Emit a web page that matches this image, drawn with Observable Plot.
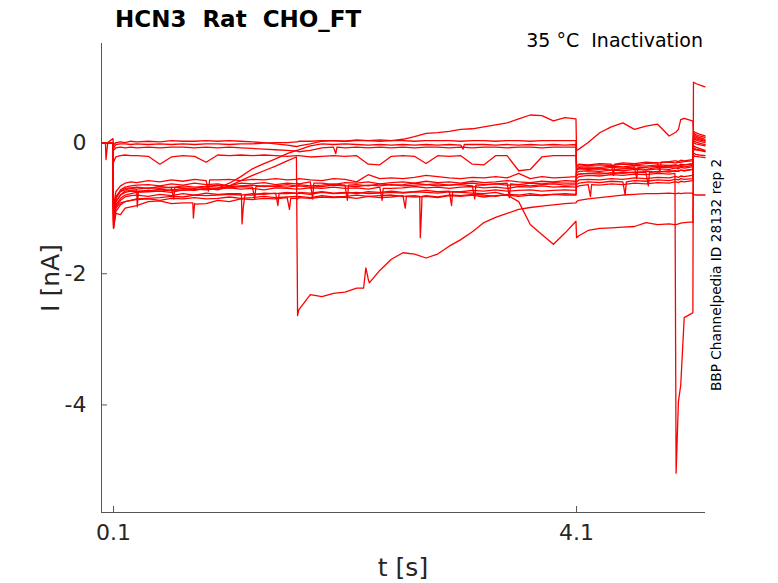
<!DOCTYPE html>
<html><head><meta charset="utf-8">
<script src="https://cdn.jsdelivr.net/npm/d3@7"></script>
<script src="https://cdn.jsdelivr.net/npm/@observablehq/plot@0.6"></script>
<style>body{margin:0;background:#fff;} svg{font-family:"DejaVu Sans",sans-serif;}</style>
</head><body><div id="chart"></div>
<script>
const title = "HCN3  Rat  CHO_FT";
const subtitle = "35 °C  Inactivation";
const sideNote = "BBP Channelpedia ID 28132 rep 2";
const xLabel = "t [s]";
const yLabel = "I [nA]";
const xTicks = [0.1, 4.1];
const yTicks = [0, -2, -4];
const xDomain = [-0.004, 5.214];
const yDomain = [-5.64, 1.51];

// sample times (s)
const tGrid = [0, 0.03, 0.035, 0.05, 0.095, 0.1, 0.12, 0.16, 0.2, 0.25,
  0.3, 0.4, 0.5, 0.6, 0.7, 0.8, 0.9, 1.0, 1.1, 1.2,
  1.3, 1.4, 1.5, 1.6, 1.68, 1.69, 1.7, 1.8, 1.9, 2.0,
  2.1, 2.2, 2.3, 2.4, 2.5, 2.6, 2.7, 2.8, 2.9, 3.0,
  3.1, 3.2, 3.3, 3.4, 3.5, 3.6, 3.7, 3.8, 3.9, 4.0,
  4.095, 4.1, 4.12, 4.2, 4.3, 4.4, 4.5, 4.6, 4.7, 4.8,
  4.9, 4.95, 4.96, 4.98, 5.0, 5.03, 5.1, 5.105, 5.11, 5.13,
  5.16, 5.21];

// current traces (nA), one value per sample time
const sweepU1 = [0, 0, 0, 0, 0.06, -0.04, 0.0, 0.01, 0.0, 0.02,
  0.01, 0.02, 0.01, 0.03, 0.02, 0.02, 0.03, 0.02, 0.03, 0.02,
  0.01, 0.0, -0.02, -0.04, -0.06, -0.06, -0.05, -0.02, 0.02, 0.03,
  0.02, 0.04, 0.03, 0.04, 0.03, 0.05, 0.09, 0.14, 0.15, 0.17,
  0.2, 0.21, 0.24, 0.27, 0.3, 0.36, 0.42, 0.41, 0.33, 0.38,
  0.36, -0.12, -0.1, 0.0, 0.15, 0.24, 0.3, 0.2, 0.25, 0.28,
  0.1, 0.15, 0.16, 0.2, 0.35, 0.37, 0.33, 0.32, 0.12, 0.1,
  0.08, 0.05];
const sweepU2 = [0, 0, 0, 0, 0, -0.08, -0.03, -0.02, -0.02, -0.03,
  -0.02, -0.03, -0.02, -0.03, -0.02, -0.03, -0.02, -0.02, -0.03, -0.02,
  -0.02, -0.01, 0.0, 0.0, 0.01, 0.01, 0.02, 0.02, 0.03, 0.03,
  0.02, 0.03, 0.03, 0.02, 0.03, 0.03, 0.02, 0.03, 0.03, 0.03,
  0.02, 0.03, 0.03, 0.02, 0.03, 0.03, 0.02, 0.03, 0.03, 0.03,
  0.03, -0.36, -0.36, -0.35, -0.34, -0.35, -0.33, -0.34, -0.32, -0.31,
  -0.3, -0.31, -0.31, -0.3, -0.3, -0.29, -0.28, -0.28, 0.17, 0.15,
  0.13, 0.1];
const sweepU3 = [0, 0, -0.26, 0, 0, -0.12, -0.08, -0.07, -0.08, -0.07,
  -0.08, -0.07, -0.08, -0.07, -0.07, -0.08, -0.07, -0.08, -0.07, -0.08,
  -0.09, -0.1, -0.11, -0.12, -0.13, -0.13, -0.14, -0.12, -0.08, -0.07,
  -0.08, -0.07, -0.08, -0.07, -0.08, -0.07, -0.08, -0.07, -0.07, -0.08,
  -0.07, -0.08, -0.07, -0.07, -0.08, -0.07, -0.07, -0.08, -0.07, -0.07,
  -0.07, -0.42, -0.4, -0.41, -0.4, -0.42, -0.4, -0.39, -0.41, -0.38,
  -0.38, -0.37, -0.37, -0.38, -0.36, -0.37, -0.35, -0.35, 0.1, 0.08,
  0.06, 0.03];
const sweepU4 = [0, 0, 0, 0, 0, -0.3, -0.22, -0.2, -0.19, -0.2,
  -0.2, -0.21, -0.33, -0.22, -0.2, -0.21, -0.3, -0.19, -0.2, -0.19,
  -0.2, -0.19, -0.2, -0.21, -0.2, -0.2, -0.2, -0.22, -0.21, -0.2,
  -0.21, -0.2, -0.33, -0.34, -0.21, -0.2, -0.21, -0.32, -0.2, -0.21,
  -0.2, -0.33, -0.34, -0.2, -0.2, -0.43, -0.41, -0.22, -0.2, -0.2,
  -0.2, -0.5, -0.48, -0.47, -0.46, -0.48, -0.45, -0.46, -0.44, -0.45,
  -0.43, -0.44, -0.44, -0.43, -0.42, -0.43, -0.41, -0.41, 0.0, -0.02,
  -0.03, -0.05];
const sweepR = [0, 0, 0, 0, 0, -1.2, -0.9, -0.8, -0.76, -0.74,
  -0.75, -0.73, -0.74, -0.72, -0.73, -0.71, -0.72, -0.7, -0.62, -0.52,
  -0.4, -0.32, -0.25, -0.17, -0.12, -0.12, -0.11, -0.05, -0.02, -0.03,
  -0.02, -0.03, -0.04, -0.03, -0.04, -0.03, -0.04, -0.03, -0.04, -0.03,
  -0.04, -0.03, -0.03, -0.04, -0.03, -0.04, -0.03, -0.04, -0.03, -0.04,
  -0.03, -0.4, -0.38, -0.37, -0.38, -0.36, -0.37, -0.35, -0.36, -0.34,
  -0.35, -0.34, -0.34, -0.35, -0.33, -0.34, -0.32, -0.32, 0.08, 0.06,
  0.04, 0.02];
const sweepD = [0, 0, 0, 0, 0, -1.3, -0.95, -0.85, -0.8, -0.78,
  -0.76, -0.75, -0.74, -0.76, -0.72, -0.73, -0.7, -0.72, -0.66, -0.58,
  -0.5, -0.43, -0.36, -0.28, -0.22, -2.64, -2.55, -2.32, -2.35, -2.3,
  -2.28, -2.22, -2.08, -1.95, -1.78, -1.68, -1.7, -1.76, -1.7, -1.58,
  -1.48, -1.36, -1.22, -1.14, -1.08, -1.02, -0.99, -0.97, -0.95, -0.93,
  -0.92, -0.9, -0.88, -0.86, -0.84, -0.82, -0.8, -0.79, -0.78, -0.78,
  -0.77, -0.78, -0.78, -0.77, -0.78, -0.77, -0.77, -0.78, -0.79, -0.8,
  -0.8, -0.8];
const sweepL = [0, 0, 0, 0, 0, -1.25, -1.0, -0.92, -0.9, -0.88,
  -0.86, -0.85, -0.84, -0.82, -0.83, -0.8, -0.81, -0.8, -0.79, -0.8,
  -0.78, -0.79, -0.77, -0.78, -0.77, -0.78, -0.77, -0.79, -0.76, -0.78,
  -0.77, -0.76, -0.78, -0.77, -0.76, -0.77, -0.75, -0.76, -0.77, -0.75,
  -0.76, -0.77, -0.78, -0.76, -0.8, -0.9, -1.25, -1.4, -1.55, -1.38,
  -1.2, -1.45, -1.42, -1.34, -1.31, -1.3, -1.29, -1.28, -1.22, -1.25,
  -1.24, -1.25, -1.25, -1.24, -1.23, -1.22, -1.21, -1.22, -0.05, -0.07,
  -0.09, -0.12];
const sweepV = [0, 0, 0, 0, 0, -1.1, -0.85, -0.75, -0.72, -0.7,
  -0.71, -0.69, -0.7, -0.68, -0.69, -0.7, -0.67, -0.68, -0.69, -0.67,
  -0.68, -0.66, -0.67, -0.68, -0.66, -0.67, -0.66, -0.68, -0.67, -0.65,
  -0.66, -0.67, -0.65, -0.66, -0.64, -0.66, -0.65, -0.64, -0.66, -0.65,
  -0.64, -0.66, -0.65, -0.63, -0.65, -0.64, -0.66, -0.64, -0.63, -0.65,
  -0.64, -0.55, -0.52, -0.5, -0.51, -0.49, -0.5, -0.48, -0.49, -0.47,
  -0.48, -0.47, -5.04, -3.95, -3.7, -2.67, -2.6, -2.59, 0.92, 0.9,
  0.88, 0.85];
const sweepB1 = [0, 0, 0, 0, 0, -1.0, -0.75, -0.66, -0.62, -0.6,
  -0.61, -0.58, -0.6, -0.57, -0.59, -0.56, -0.58, -0.57, -0.56, -0.58,
  -0.56, -0.57, -0.55, -0.57, -0.56, -0.56, -0.55, -0.57, -0.58, -0.55,
  -0.56, -0.6, -0.49, -0.55, -0.54, -0.55, -0.53, -0.5, -0.52, -0.54,
  -0.55, -0.53, -0.54, -0.52, -0.54, -0.47, -0.55, -0.52, -0.54, -0.53,
  -0.52, -0.36, -0.33, -0.34, -0.32, -0.33, -0.31, -0.32, -0.3, -0.31,
  -0.29, -0.28, -0.28, -0.29, -0.27, -0.28, -0.26, -0.26, 0.14, 0.12,
  0.1, 0.08];
const sweepB2 = [0, 0, 0, 0, 0, -1.15, -0.85, -0.72, -0.68, -0.66,
  -0.65, -0.64, -0.66, -0.63, -0.65, -0.62, -0.64, -0.63, -0.66, -0.62,
  -0.63, -0.61, -0.64, -0.62, -0.63, -0.62, -0.63, -0.6, -0.62, -0.64,
  -0.61, -0.62, -0.6, -0.63, -0.61, -0.6, -0.62, -0.59, -0.61, -0.6,
  -0.62, -0.59, -0.61, -0.6, -0.58, -0.6, -0.61, -0.59, -0.6, -0.58,
  -0.59, -0.42, -0.4, -0.39, -0.4, -0.38, -0.39, -0.37, -0.38, -0.36,
  -0.37, -0.35, -0.35, -0.36, -0.35, -0.34, -0.33, -0.33, 0.06, 0.04,
  0.02, 0.0];
const sweepB3 = [0, 0, 0, 0, 0, -1.2, -0.9, -0.8, -0.74, -0.73,
  -0.72, -0.74, -0.71, -0.73, -0.7, -0.72, -0.7, -0.71, -0.69, -0.71,
  -0.7, -0.72, -0.69, -0.7, -0.71, -0.7, -0.71, -0.69, -0.7, -0.68,
  -0.7, -0.69, -0.71, -0.68, -0.7, -0.69, -0.67, -0.69, -0.68, -0.7,
  -0.68, -0.67, -0.69, -0.68, -0.7, -0.67, -0.68, -0.66, -0.68, -0.67,
  -0.68, -0.5, -0.48, -0.47, -0.48, -0.46, -0.47, -0.45, -0.46, -0.44,
  -0.45, -0.43, -0.43, -0.44, -0.42, -0.43, -0.41, -0.41, -0.1, -0.11,
  -0.12, -0.14];
const sweepB4 = [0, 0, 0, 0, 0, -1.25, -0.98, -0.88, -0.83, -0.81,
  -0.8, -0.82, -0.79, -0.81, -0.78, -0.8, -0.77, -0.79, -0.78, -0.78,
  -0.8, -0.77, -0.78, -0.76, -0.77, -0.78, -0.76, -0.77, -0.75, -0.77,
  -0.76, -0.78, -0.75, -0.76, -0.74, -0.76, -0.75, -0.73, -0.75, -0.74,
  -0.75, -0.73, -0.74, -0.72, -0.74, -0.73, -0.72, -0.74, -0.73, -0.72,
  -0.73, -0.6, -0.57, -0.56, -0.57, -0.55, -0.56, -0.54, -0.55, -0.53,
  -0.54, -0.52, -0.52, -0.53, -0.51, -0.52, -0.5, -0.5, -0.16, -0.18,
  -0.19, -0.2];
const sweepB5 = [0, 0, 0, 0, 0, -1.3, -1.05, -0.95, -0.9, -0.88,
  -0.87, -0.86, -0.88, -0.85, -0.86, -0.84, -0.86, -0.85, -0.83, -0.85,
  -0.84, -0.82, -0.84, -0.83, -0.82, -0.83, -0.82, -0.84, -0.81, -0.83,
  -0.82, -0.8, -0.82, -0.81, -0.8, -0.82, -0.81, -0.81, -0.83, -0.8,
  -0.81, -0.79, -0.8, -0.82, -0.79, -0.8, -0.78, -0.8, -0.79, -0.78,
  -0.79, -0.64, -0.62, -0.6, -0.61, -0.59, -0.6, -0.58, -0.59, -0.57,
  -0.58, -0.56, -0.56, -0.57, -0.55, -0.56, -0.55, -0.55, -0.2, -0.21,
  -0.22, -0.23];
const sweepB6 = [0, 0, 0, 0, 0, -1.31, -1.08, -1.1, -1.0, -0.98,
  -0.96, -0.9, -0.89, -0.93, -0.92, -0.93, -0.93, -0.88, -0.9, -0.86,
  -0.87, -0.85, -0.86, -0.84, -0.85, -0.86, -0.84, -0.85, -0.83, -0.84,
  -0.83, -0.85, -0.82, -0.84, -0.83, -0.81, -0.83, -0.82, -0.84, -0.81,
  -0.82, -0.8, -0.83, -0.81, -0.8, -0.82, -0.8, -0.81, -0.79, -0.8,
  -0.8, -0.68, -0.66, -0.64, -0.65, -0.63, -0.64, -0.62, -0.63, -0.61,
  -0.62, -0.6, -0.6, -0.61, -0.59, -0.6, -0.58, -0.58, -0.08, -0.1,
  -0.11, -0.13];
const sweepB7 = [0, 0, 0, 0, 0, -1.1, -0.82, -0.74, -0.7, -0.69,
  -0.68, -0.7, -0.67, -0.69, -0.66, -0.68, -0.67, -0.65, -0.67, -0.66,
  -0.65, -0.67, -0.66, -0.64, -0.66, -0.65, -0.64, -0.66, -0.65, -0.63,
  -0.65, -0.64, -0.66, -0.63, -0.65, -0.64, -0.62, -0.64, -0.63, -0.65,
  -0.63, -0.62, -0.64, -0.63, -0.62, -0.64, -0.62, -0.63, -0.61, -0.62,
  -0.62, -0.46, -0.44, -0.43, -0.44, -0.42, -0.43, -0.41, -0.42, -0.4,
  -0.41, -0.39, -0.39, -0.4, -0.38, -0.39, -0.37, -0.37, 0.03, 0.01,
  -0.01, -0.03];

// brief transients between sample times: [sweep, t (s), I (nA)]
const spikes = [
  ["B5", 2.745, -0.82], ["B5", 2.75, -1.45], ["B5", 2.758, -1.15], ["B5", 2.765, -0.82],
  ["B4", 1.205, -0.79], ["B4", 1.21, -1.24], ["B4", 1.22, -1.0], ["B4", 1.235, -0.8],
  ["B6", 0.785, -0.92], ["B6", 0.79, -1.15], ["B6", 0.805, -0.94],
  ["D", 2.26, -2.22], ["D", 2.28, -1.91], ["D", 2.31, -2.14],
  ["B3", 0.305, -0.98], ["B3", 0.315, -0.74],
  ["B2", 1.82, -0.86], ["B2", 1.83, -0.62],
  ["B3", 2.42, -0.88], ["B3", 2.43, -0.7],
  ["B7", 3.52, -0.84], ["B7", 3.53, -0.63],
  ["B1", 4.42, -0.5], ["B1", 4.43, -0.33],
  ["B2", 4.62, -0.55], ["B2", 4.63, -0.38],
  ["V", 1.32, -0.86], ["V", 1.33, -0.67],
  ["B7", 2.12, -0.88], ["B7", 2.13, -0.65],
  ["B1", 0.92, -0.74], ["B1", 0.93, -0.57],
  ["B4", 3.02, -0.96], ["B4", 3.03, -0.75],
  ["V", 3.22, -0.86], ["V", 3.23, -0.65],
  ["B6", 1.62, -1.02], ["B6", 1.63, -0.85],
  ["B5", 4.52, -0.8], ["B5", 4.53, -0.6],
  ["B3", 4.72, -0.66], ["B3", 4.73, -0.46],
  ["B7", 0.62, -0.86], ["B7", 0.63, -0.68],
  ["L", 1.52, -0.96], ["L", 1.53, -0.78],
  ["B6", 2.62, -1.0], ["B6", 2.63, -0.82],
  ["U3", 2.02, -0.17], ["U3", 2.03, -0.07],
  ["R", 3.12, -0.1], ["R", 3.13, -0.03],
  ["B1", 4.82, -0.45], ["B1", 4.83, -0.3],
  ["B6", 4.22, -0.82], ["B6", 4.23, -0.64]
];

const sweeps = [
  ["U1", sweepU1], ["U2", sweepU2], ["U3", sweepU3], ["U4", sweepU4],
  ["R", sweepR], ["D", sweepD], ["L", sweepL], ["V", sweepV],
  ["B1", sweepB1], ["B2", sweepB2], ["B3", sweepB3], ["B4", sweepB4],
  ["B5", sweepB5], ["B6", sweepB6], ["B7", sweepB7]
];
const rows = sweeps.flatMap(([id, vals]) => vals.map((I, i) => ({id, t: tGrid[i], I})))
  .concat(spikes.map(([id, t, I]) => ({id, t, I})))
  .sort((a, b) => a.t - b.t);

const W = 778, H = 583, mL = 101, mR = 73, mT = 43, mB = 71;
const fw = W - mL - mR, fh = H - mT - mB;
const axisColor = "#555";

const chart = Plot.plot({
  width: W, height: H,
  marginLeft: mL, marginRight: mR, marginTop: mT, marginBottom: mB,
  style: {fontFamily: "DejaVu Sans", background: "white", color: "#262626", overflow: "visible"},
  x: {domain: xDomain},
  y: {domain: yDomain},
  marks: [
    Plot.ruleX([xDomain[0]], {stroke: axisColor}),
    Plot.ruleY([yDomain[0]], {stroke: axisColor}),
    Plot.tickX(xTicks, {x: d => d, insetTop: fh - 6, stroke: axisColor}),
    Plot.tickY(yTicks, {y: d => d, insetRight: fw - 6, stroke: axisColor}),
    Plot.axisX(xTicks, {tickSize: 0, tickPadding: 12, fontSize: 22, tickFormat: d => d.toFixed(1), label: null}),
    Plot.axisY(yTicks, {tickSize: 0, tickPadding: 15, fontSize: 22, tickFormat: d => String(d), label: null}),
    Plot.line(rows, {x: "t", y: "I", z: "id", stroke: "#ff0000", strokeWidth: 1.3})
  ]
});
document.getElementById("chart").appendChild(chart);

const svg = d3.select(chart);
svg.append("text").attr("x", 115).attr("y", 27).attr("text-anchor", "start")
  .attr("font-size", 23).attr("font-weight", "bold").attr("fill", "#000").text(title);
svg.append("text").attr("x", 703).attr("y", 47).attr("text-anchor", "end")
  .attr("font-size", 19).attr("fill", "#000").text(subtitle);
svg.append("text").attr("transform", "translate(59,278) rotate(-90)").attr("text-anchor", "middle")
  .attr("font-size", 25).attr("fill", "#262626").text(yLabel);
svg.append("text").attr("x", 403).attr("y", 576).attr("text-anchor", "middle")
  .attr("font-size", 25).attr("fill", "#262626").text(xLabel);
svg.append("text").attr("transform", "translate(721,275) rotate(-90)").attr("text-anchor", "middle")
  .attr("font-size", 13.7).attr("fill", "#000").text(sideNote);
</script>
</body></html>
